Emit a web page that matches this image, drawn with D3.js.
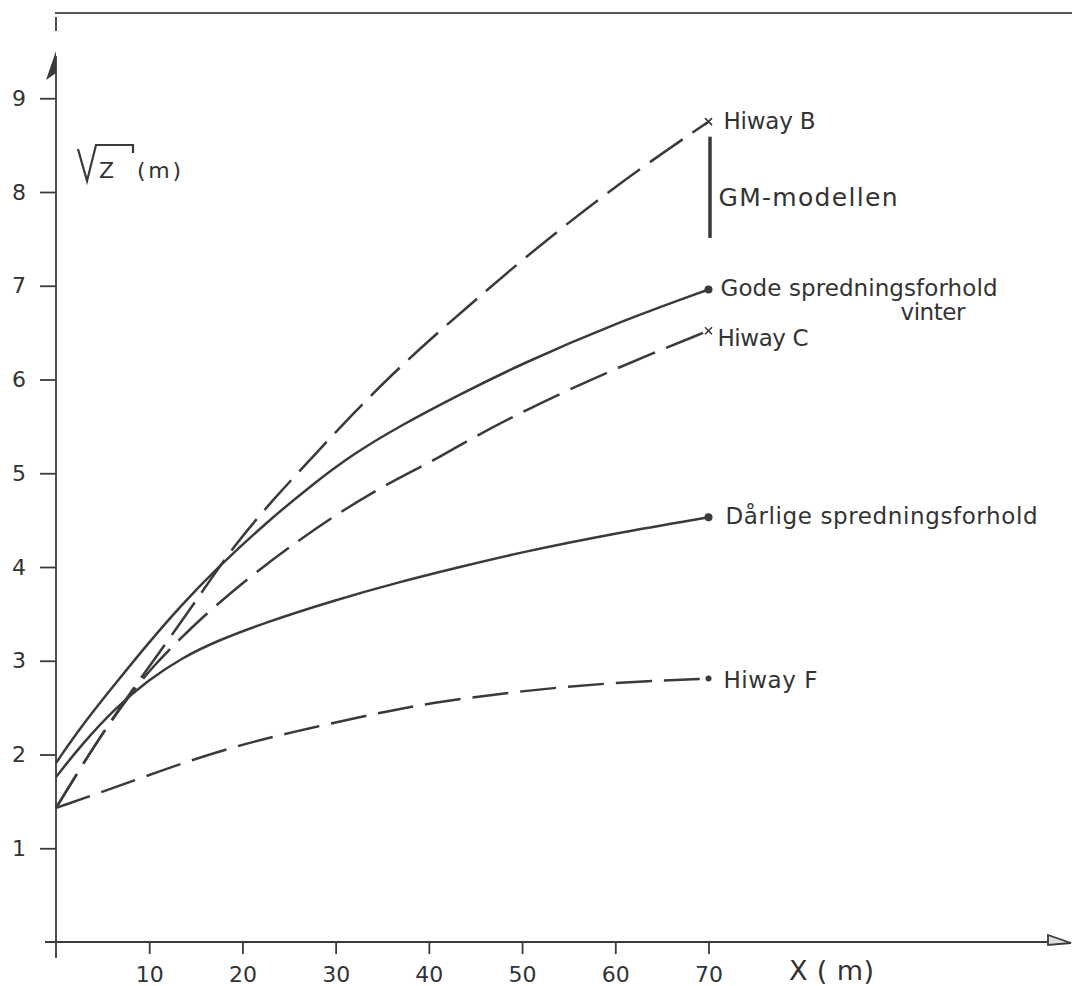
<!DOCTYPE html>
<html>
<head>
<meta charset="utf-8">
<script src="https://cdn.jsdelivr.net/npm/d3@7"></script>
<style>
  body { margin: 0; background: #fff; }
  svg text { font-family: "DejaVu Sans", sans-serif; fill: #333; }
</style>
</head>
<body>
<div id="chart"></div>
<script>
// Tick values
const xTicks = [10, 20, 30, 40, 50, 60, 70];
const yTicks = [1, 2, 3, 4, 5, 6, 7, 8, 9];

// Series: [x (m), sqrt(z) (m)]
const gode = [[0, 1.91], [2.7, 2.3], [6.4, 2.76], [10, 3.2], [13.5, 3.6], [17.2, 3.98],
              [22.5, 4.47], [27.5, 4.88], [31.8, 5.2], [36.8, 5.5], [43.3, 5.84],
              [50, 6.17], [60, 6.6], [70, 6.96]];
const darlige = [[0, 1.76], [2.7, 2.1], [6.4, 2.5], [10, 2.8], [13.5, 3.03], [17.2, 3.21],
                 [22.5, 3.41], [29.7, 3.64], [36.8, 3.84], [43.3, 4.0], [50, 4.16],
                 [60, 4.36], [70, 4.53]];
const hiwayB = [[0, 1.43], [2.7, 1.87], [5.3, 2.27], [8.1, 2.68], [11.4, 3.13], [14.6, 3.58],
                [16.4, 3.84], [19.3, 4.25], [23.2, 4.71], [27.5, 5.17], [31.8, 5.63],
                [36.1, 6.06], [40.4, 6.45], [43.3, 6.7], [50, 7.28], [60, 8.07], [70, 8.75]];
const hiwayC = [[0, 1.43], [2.7, 1.87], [5.3, 2.27], [8.1, 2.66], [10.5, 2.95], [12.9, 3.19],
                [15.3, 3.43], [20.7, 3.89], [26.1, 4.29], [30.7, 4.6], [35.4, 4.88],
                [40.4, 5.13], [43.3, 5.3], [50, 5.66], [60, 6.12], [70, 6.52]];
const hiwayF = [[0, 1.43], [6.4, 1.65], [13.5, 1.91], [20.7, 2.13], [27.2, 2.28], [34, 2.43],
                [40, 2.55], [50, 2.68], [60, 2.77], [70, 2.81]];

// GM model range at x = 70
const gmRange = [7.51, 8.59];

const width = 1072, height = 986;

const svg = d3.select("#chart")
  .append("svg")
  .attr("width", width)
  .attr("height", height);

const x = d3.scaleLinear().domain([0, 70]).range([56, 708.5]);
const y = d3.scaleLinear().domain([0, 9]).range([942, 98.25]);

const ink = "#3a3a3a";

// frame line along the top
svg.append("line")
  .attr("x1", 55).attr("x2", width).attr("y1", 13).attr("y2", 13)
  .attr("stroke", "#555").attr("stroke-width", 2);
svg.append("line")
  .attr("x1", x(0)).attr("x2", x(0)).attr("y1", 17).attr("y2", 31)
  .attr("stroke", ink).attr("stroke-width", 1.8);

// axis lines with arrow heads
svg.append("line")
  .attr("x1", x(0)).attr("x2", x(0)).attr("y1", 958).attr("y2", 56)
  .attr("stroke", ink).attr("stroke-width", 1.8);
svg.append("path")
  .attr("d", `M${x(0)},51 L${x(0) - 10},80 L${x(0)},73 Z`)
  .attr("fill", ink);

svg.append("line")
  .attr("x1", 45).attr("x2", 1050).attr("y1", y(0)).attr("y2", y(0))
  .attr("stroke", ink).attr("stroke-width", 1.8);
svg.append("path")
  .attr("d", `M1048,${y(0) - 7} L1071,${y(0) + 1} L1048,${y(0) + 3} Z`)
  .attr("fill", "#ddd").attr("stroke", ink).attr("stroke-width", 1.8);

// y axis ticks
const yAxis = svg.append("g")
  .attr("transform", `translate(${x(0)},0)`)
  .call(d3.axisLeft(y).tickValues(yTicks).tickSize(16).tickPadding(14).tickFormat(d3.format("d")));
yAxis.select(".domain").remove();
yAxis.selectAll(".tick line").attr("stroke", ink).attr("stroke-width", 1.8);
yAxis.selectAll(".tick text").style("font-size", "22px").attr("fill", "#333");

// x axis ticks
const xAxis = svg.append("g")
  .attr("transform", `translate(0,${y(0)})`)
  .call(d3.axisBottom(x).tickValues(xTicks).tickSize(12).tickPadding(12).tickFormat(d3.format("d")));
xAxis.select(".domain").remove();
xAxis.selectAll(".tick line").attr("stroke", ink).attr("stroke-width", 1.8);
xAxis.selectAll(".tick text").style("font-size", "22px").attr("fill", "#333");

// axis titles
svg.append("path")
  .attr("d", "M78,149 L87,181 L96,145 L133,145 L133,153")
  .attr("fill", "none").attr("stroke", ink).attr("stroke-width", 2.2);
svg.append("text").attr("x", 99).attr("y", 178).style("font-size", "22px").text("Z");
svg.append("text").attr("x", 137).attr("y", 178).style("font-size", "22px")
  .attr("textLength", 44).attr("lengthAdjust", "spacing").text("(m)");

svg.append("text").attr("x", 789).attr("y", 980).style("font-size", "27px")
  .attr("textLength", 85).attr("lengthAdjust", "spacing").text("X ( m)");

// curves
const line = d3.line()
  .x(d => x(d[0]))
  .y(d => y(d[1]))
  .curve(d3.curveBasis);

const series = [
  { data: gode, dash: null },
  { data: darlige, dash: null },
  { data: hiwayB, dash: "40,12" },
  { data: hiwayC, dash: "40,12" },
  { data: hiwayF, dash: "36,12" }
];

svg.selectAll(".curve")
  .data(series)
  .enter()
  .append("path")
  .attr("class", "curve")
  .attr("d", d => line(d.data))
  .attr("fill", "none")
  .attr("stroke", ink)
  .attr("stroke-width", 2.5)
  .attr("stroke-dasharray", d => d.dash);

// end markers
const last = arr => arr[arr.length - 1];

[gode, darlige, hiwayF].forEach((s, i) => {
  svg.append("circle")
    .attr("cx", x(last(s)[0]))
    .attr("cy", y(last(s)[1]))
    .attr("r", i === 2 ? 3 : 4)
    .attr("fill", ink);
});

[hiwayB, hiwayC].forEach(s => {
  const cx = x(last(s)[0]), cy = y(last(s)[1]), r = 3.5;
  svg.append("path")
    .attr("d", `M${cx - r},${cy - r} L${cx + r},${cy + r} M${cx - r},${cy + r} L${cx + r},${cy - r}`)
    .attr("stroke", ink).attr("stroke-width", 1.6);
});

// GM model bar
svg.append("line")
  .attr("x1", x(70) + 1.5).attr("x2", x(70) + 1.5)
  .attr("y1", y(gmRange[1])).attr("y2", y(gmRange[0]))
  .attr("stroke", ink).attr("stroke-width", 3.5);

// curve labels
const labels = [
  { text: "Hiway B", dx: 15, y: y(last(hiwayB)[1]) + 7, w: 92, size: 23 },
  { text: "GM-modellen", dx: 10, y: 206, w: 179, size: 25 },
  { text: "Gode spredningsforhold", dx: 12, y: y(last(gode)[1]) + 6, w: 277, size: 23 },
  { text: "vinter", dx: 192, y: y(last(gode)[1]) + 30, w: 65, size: 23 },
  { text: "Hiway C", dx: 9, y: y(last(hiwayC)[1]) + 15, w: 91, size: 23 },
  { text: "Dårlige spredningsforhold", dx: 17, y: y(last(darlige)[1]) + 7, w: 312, size: 23 },
  { text: "Hiway F", dx: 15, y: y(last(hiwayF)[1]) + 9, w: 94, size: 23 }
];

svg.selectAll(".label")
  .data(labels)
  .enter()
  .append("text")
  .attr("class", "label")
  .attr("x", d => x(70) + d.dx)
  .attr("y", d => d.y)
  .attr("textLength", d => d.w)
  .attr("lengthAdjust", "spacing")
  .style("font-size", d => d.size + "px")
  .text(d => d.text);
</script>
</body>
</html>
